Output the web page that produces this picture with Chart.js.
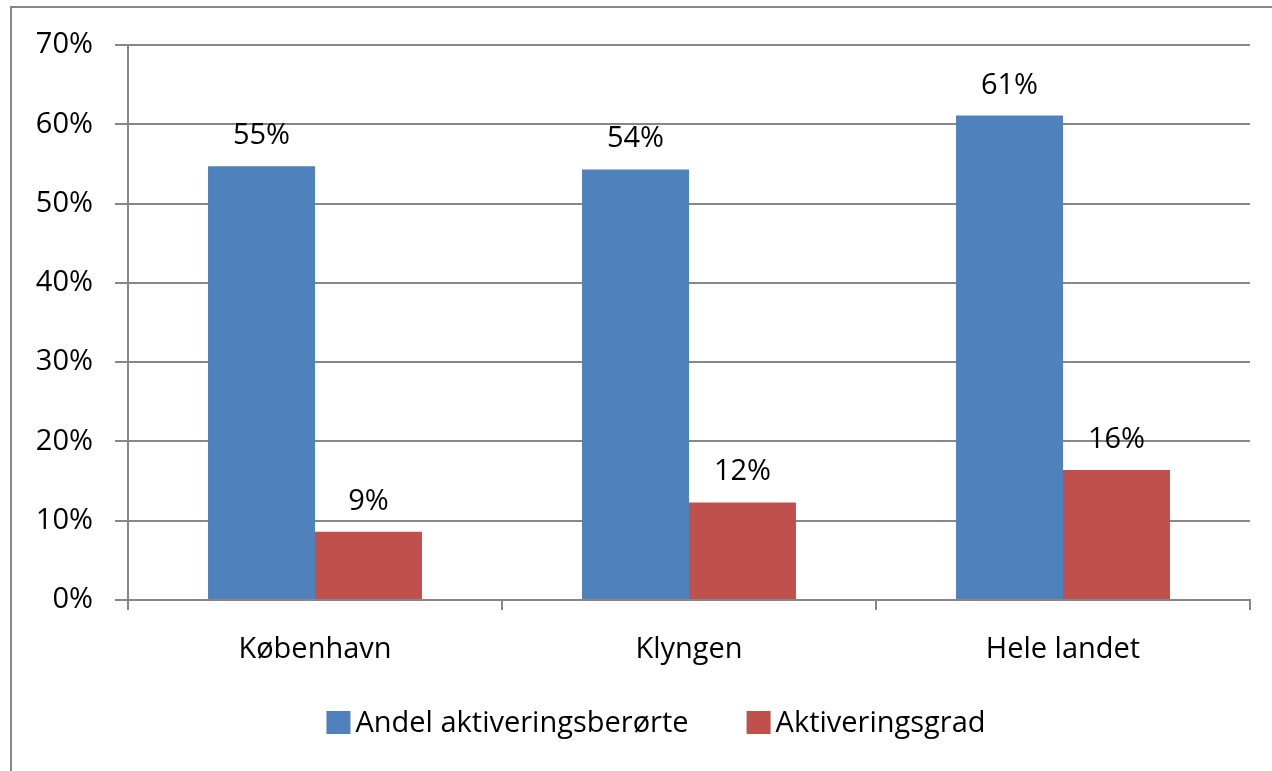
<!DOCTYPE html>
<html>
<head>
<meta charset="utf-8">
<script src="https://cdn.jsdelivr.net/npm/chart.js@4/dist/chart.umd.min.js"></script>
<style>
  html, body { margin: 0; padding: 0; background: #fff; }
  #wrap { width: 1272px; height: 771px; position: relative; }
</style>
</head>
<body>
<div id="wrap"><canvas id="c" width="1272" height="771"></canvas></div>
<script>
const categories = ["København", "Klyngen", "Hele landet"];
const andelValues = [54.7, 54.3, 61.1];
const gradValues = [8.6, 12.3, 16.4];
const seriesNames = ["Andel aktiveringsberørte", "Aktiveringsgrad"];
const seriesColors = ["#4F81BD", "#C0504D"];
const yTicks = [0, 10, 20, 30, 40, 50, 60, 70];

const FONT = "'Open Sans'";
const FSIZE = 29;
const GRID = "#878787";

const frame = {
  id: "frame",
  beforeDraw(chart) {
    const ctx = chart.ctx;
    ctx.save();
    ctx.fillStyle = "#fff";
    ctx.fillRect(0, 0, chart.width, chart.height);
    ctx.strokeStyle = GRID;
    ctx.lineWidth = 2;
    ctx.strokeRect(11, 7, chart.width + 20, chart.height + 20);
    ctx.restore();
  }
};

const valueLabels = {
  id: "valueLabels",
  afterDatasetsDraw(chart) {
    const ctx = chart.ctx;
    ctx.save();
    ctx.font = FSIZE + "px " + FONT;
    ctx.fillStyle = "#000";
    ctx.textAlign = "center";
    ctx.textBaseline = "alphabetic";
    chart.data.datasets.forEach((ds, di) => {
      chart.getDatasetMeta(di).data.forEach((bar, i) => {
        ctx.fillText(Math.round(ds.data[i]) + "%", bar.x, bar.y - 22);
      });
    });
    ctx.restore();
  }
};

// Legend drawn below the axis, Excel-style (small gap box->text, wide gap between items)
const bottomLegend = {
  id: "bottomLegend",
  afterDraw(chart) {
    const ctx = chart.ctx;
    ctx.save();
    ctx.font = FSIZE + "px " + FONT;
    const boxW = 24, boxH = 23, gapText = 5, gapItem = 58;
    const items = chart.data.datasets.map(ds => ({ text: ds.label, color: ds.backgroundColor, w: ctx.measureText(ds.label).width }));
    let total = 0;
    items.forEach((it, i) => { total += boxW + gapText + it.w + (i < items.length - 1 ? gapItem : 0); });
    const cy = chart.chartArea.bottom + 122.5;
    let x = chart.width / 2 + 20 - total / 2;
    ctx.textBaseline = "middle";
    ctx.textAlign = "left";
    items.forEach(it => {
      ctx.fillStyle = it.color;
      ctx.fillRect(x, cy - boxH / 2, boxW, boxH);
      x += boxW + gapText;
      ctx.fillStyle = "#000";
      ctx.fillText(it.text, x, cy + 1);
      x += it.w + gapItem;
    });
    ctx.restore();
  }
};

new Chart(document.getElementById("c"), {
  type: "bar",
  data: {
    labels: categories,
    datasets: [
      { label: seriesNames[0], data: andelValues, backgroundColor: seriesColors[0] },
      { label: seriesNames[1], data: gradValues, backgroundColor: seriesColors[1] }
    ]
  },
  options: {
    responsive: false,
    animation: false,
    devicePixelRatio: 1,
    categoryPercentage: 0.572,
    barPercentage: 1,
    layout: { padding: { top: 45, right: 22, bottom: 73, left: 0 } },
    plugins: {
      tooltip: { enabled: false },
      legend: { display: false }
    },
    scales: {
      x: {
        grid: {
          offset: true,
          drawOnChartArea: false,
          drawTicks: true,
          tickLength: 10,
          color: GRID,
          lineWidth: 2
        },
        border: { color: GRID, width: 2 },
        ticks: {
          font: { family: FONT, size: FSIZE },
          color: "#000",
          padding: 22
        },
        afterFit(scale) { scale.height = 98; }
      },
      y: {
        min: 0,
        max: 70,
        afterBuildTicks(scale) { scale.ticks = yTicks.map(v => ({ value: v })); },
        grid: {
          color: GRID,
          lineWidth: 2,
          drawTicks: true,
          tickLength: 13
        },
        border: { color: GRID, width: 2 },
        ticks: {
          font: { family: FONT, size: FSIZE },
          color: "#000",
          padding: 22,
          callback: v => v + "%"
        },
        afterFit(scale) { scale.width = 128; }
      }
    }
  },
  plugins: [frame, valueLabels, bottomLegend]
});
</script>
</body>
</html>
